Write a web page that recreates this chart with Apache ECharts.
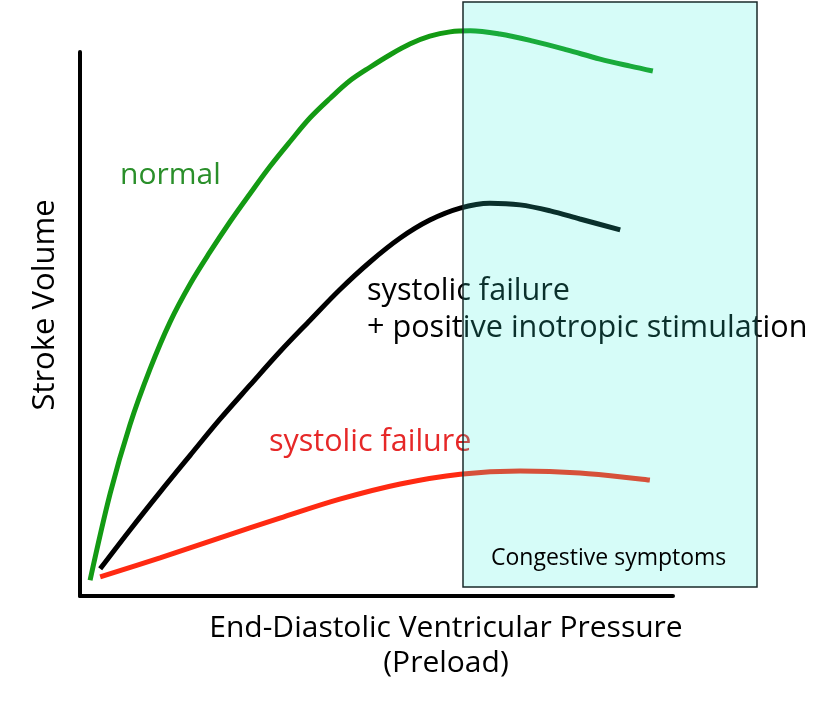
<!DOCTYPE html>
<html>
<head>
<meta charset="utf-8">
<script src="https://cdn.jsdelivr.net/npm/echarts@6/dist/echarts.min.js"></script>
<style>html,body{margin:0;padding:0;background:#fff}#c{width:816px;height:711px}</style>
</head>
<body>
<div id="c"></div>
<script>
// Preload (x) and stroke volume (y), arbitrary units 0-100
const normalX = [1.7, 5.1, 8.4, 11.8, 15.2, 18.6, 21.9, 25.3, 28.7, 32.0, 35.4, 38.8, 42.2, 45.5, 48.9, 52.3, 55.7, 59.0, 62.4, 65.8, 70.8, 76.4, 82.1, 87.7, 92.8, 96.6];
const normalY = [2.9, 18.9, 31.4, 41.7, 50.4, 57.4, 63.2, 68.8, 74.0, 78.9, 83.5, 87.9, 91.5, 94.7, 97.2, 99.5, 101.5, 102.9, 103.7, 103.9, 103.3, 102.0, 100.4, 98.7, 97.4, 96.5];
const inotropicX = [3.4, 8.4, 13.5, 18.6, 23.6, 28.7, 33.7, 38.8, 43.8, 48.9, 54.0, 59.0, 64.1, 69.1, 74.2, 79.3, 84.3, 91.1];
const inotropicY = [5.0, 12.1, 19.1, 25.9, 32.5, 38.8, 44.9, 50.7, 56.3, 61.4, 65.8, 69.1, 71.3, 72.2, 71.9, 70.8, 69.3, 67.3];
const failureX = [3.4, 13.5, 23.6, 33.7, 43.8, 54.0, 64.1, 74.2, 84.3, 96.1];
const failureY = [3.5, 7.0, 10.7, 14.3, 17.8, 20.6, 22.4, 23.0, 22.6, 21.3];

const zip = (xs, ys) => xs.map((x, i) => [x, ys[i]]);
const FONT = 'Open Sans';
const f = (s) => s + 'px "' + FONT + '"';

const chart = echarts.init(document.getElementById('c'), null, {renderer: 'canvas'});
chart.setOption({
  animation: false,
  backgroundColor: '#fff',
  grid: {left: 80, top: 52, right: 143, bottom: 115},
  xAxis: {
    type: 'value', min: 0, max: 100,
    axisLine: {show: true, lineStyle: {color: '#000', width: 4}},
    axisTick: {show: false}, axisLabel: {show: false}, splitLine: {show: false}
  },
  yAxis: {
    type: 'value', min: 0, max: 100,
    axisLine: {show: true, lineStyle: {color: '#000', width: 4}},
    axisTick: {show: false}, axisLabel: {show: false}, splitLine: {show: false}
  },
  series: [
    {name: 'normal', type: 'line', data: zip(normalX, normalY), smooth: 0.35, showSymbol: false, clip: false,
     lineStyle: {color: '#139a13', width: 5, cap: 'butt'}},
    {name: 'systolic failure + positive inotropic stimulation', type: 'line', data: zip(inotropicX, inotropicY), smooth: 0.35, showSymbol: false, clip: false,
     lineStyle: {color: '#000', width: 5, cap: 'butt'}},
    {name: 'systolic failure', type: 'line', data: zip(failureX, failureY), smooth: 0.35, showSymbol: false, clip: false,
     lineStyle: {color: '#ff2a12', width: 5, cap: 'butt'}}
  ],
  graphic: [
    {type: 'rect', z: 100, shape: {x: 463, y: 2, width: 294, height: 585},
     style: {fill: 'rgba(50,240,220,0.2)', stroke: '#1a2a2a', lineWidth: 1.5}},
    {type: 'text', z: 101, left: 491, top: 547, style: {text: 'Congestive symptoms', font: f(23), fill: '#000'}},
    {type: 'text', z: 50, left: 120, top: 160, style: {text: 'normal', font: f(30), fill: '#2a8f2a'}},
    {type: 'text', z: 50, left: 367, top: 273, style: {text: 'systolic failure\n+ positive inotropic stimulation', font: f(30.6), lineHeight: 37, fill: '#000'}},
    {type: 'text', z: 50, left: 269, top: 427, style: {text: 'systolic failure', font: f(30.5), fill: '#e62828'}},
    {type: 'text', z: 50, x: 45, y: 305, rotation: Math.PI / 2, style: {text: 'Stroke Volume', font: f(31), fill: '#000', align: 'center', verticalAlign: 'middle'}},
    {type: 'text', z: 50, x: 446, y: 628, style: {text: 'End-Diastolic Ventricular Pressure', font: f(30), fill: '#000', align: 'center', verticalAlign: 'middle'}},
    {type: 'text', z: 50, x: 446, y: 663, style: {text: '(Preload)', font: f(30), fill: '#000', align: 'center', verticalAlign: 'middle'}}
  ]
});
</script>
</body>
</html>
